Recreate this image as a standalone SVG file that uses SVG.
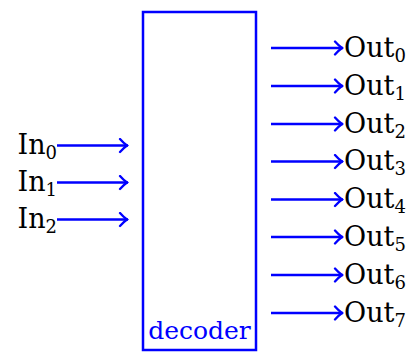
<svg xmlns="http://www.w3.org/2000/svg" width="413" height="352" viewBox="0 0 413 352">
<style>
.w{stroke:#0000ff;stroke-width:2.5;fill:none}
.a{stroke:#0000ff;stroke-width:2.5;fill:none;marker-end:url(#h)}
.t{font-family:"DejaVu Serif","Liberation Serif",serif;font-size:27px;fill:#000}
.s{font-size:18px}
.d{font-family:"DejaVu Serif","Liberation Serif",serif;font-size:25px;fill:#0000ff}
</style>
<defs>
<marker id="h" markerUnits="userSpaceOnUse" markerWidth="12" markerHeight="16" refX="1" refY="8" orient="auto" viewBox="-10 0 12 16">
<path d="M-7,1.5 Q-3.5,5.5 0,8 Q-3.5,10.5 -7,14.5" stroke="#0000ff" stroke-width="2.3" fill="none" stroke-linecap="round"/>
</marker>
</defs>
<g id="decoder">
<rect class="w" x="143" y="12" width="113" height="338"/>
<text class="d" x="199.5" y="339" text-anchor="middle">decoder</text>
</g>
<g id="inputs">
<text class="t" x="57" y="154" text-anchor="end">In<tspan class="s" dy="5">0</tspan></text>
<text class="t" x="57" y="191" text-anchor="end">In<tspan class="s" dy="5">1</tspan></text>
<text class="t" x="57" y="228" text-anchor="end">In<tspan class="s" dy="5">2</tspan></text>
</g>
<g id="outputs">
<text class="t" x="344" y="57">Out<tspan class="s" dy="5">0</tspan></text>
<text class="t" x="344" y="95">Out<tspan class="s" dy="5">1</tspan></text>
<text class="t" x="344" y="133">Out<tspan class="s" dy="5">2</tspan></text>
<text class="t" x="344" y="170">Out<tspan class="s" dy="5">3</tspan></text>
<text class="t" x="344" y="208">Out<tspan class="s" dy="5">4</tspan></text>
<text class="t" x="344" y="246">Out<tspan class="s" dy="5">5</tspan></text>
<text class="t" x="344" y="284">Out<tspan class="s" dy="5">6</tspan></text>
<text class="t" x="344" y="322">Out<tspan class="s" dy="5">7</tspan></text>
</g>
<g id="connectors">
<line class="a" x1="57" y1="145.5" x2="128" y2="145.5"/>
<line class="a" x1="57" y1="182.5" x2="128" y2="182.5"/>
<line class="a" x1="57" y1="219.5" x2="128" y2="219.5"/>
<line class="a" x1="271" y1="48" x2="343" y2="48"/>
<line class="a" x1="271" y1="86" x2="343" y2="86"/>
<line class="a" x1="271" y1="124" x2="343" y2="124"/>
<line class="a" x1="271" y1="161.5" x2="343" y2="161.5"/>
<line class="a" x1="271" y1="199.5" x2="343" y2="199.5"/>
<line class="a" x1="271" y1="237" x2="343" y2="237"/>
<line class="a" x1="271" y1="275" x2="343" y2="275"/>
<line class="a" x1="271" y1="313" x2="343" y2="313"/>
</g>
</svg>
